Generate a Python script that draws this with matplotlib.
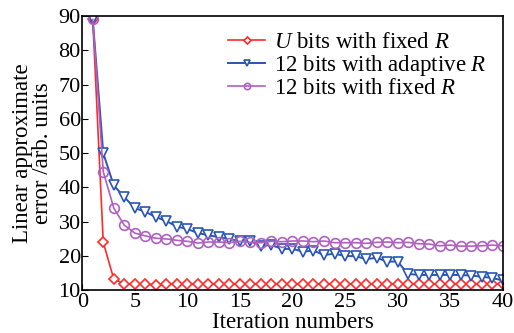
import matplotlib
matplotlib.use("Agg")
import matplotlib.pyplot as plt
import numpy as np

iters = np.arange(1, 41)

u_fixed = [89, 24, 13.3, 11.9, 11.8, 11.8, 11.6, 11.8, 11.8, 11.8,
           11.8, 11.8, 11.8, 11.8, 11.8, 11.8, 11.8, 11.8, 11.8, 11.8,
           11.8, 11.8, 11.8, 11.8, 11.8, 11.8, 11.8, 11.8, 11.8, 11.8,
           11.8, 11.8, 11.8, 11.8, 11.8, 11.8, 11.8, 11.8, 11.8, 11.8]
b12_adapt = [89, 50, 40.6, 37.2, 34.0, 32.9, 31.4, 30.2, 28.6, 27.9,
             26.7, 26.1, 25.5, 25.0, 24.3, 24.3, 23.0, 23.2, 22.1, 22.1,
             21.3, 21.6, 20.3, 20.7, 20.0, 20.0, 19.1, 19.5, 18.4, 18.4,
             14.8, 14.5, 14.5, 14.5, 14.5, 14.5, 14.3, 14.0, 13.6, 12.9]
b12_fixed = [89, 44.6, 34.0, 29.0, 26.7, 25.9, 25.2, 25.0, 24.6, 24.3,
             23.8, 24.1, 24.1, 23.9, 24.3, 24.0, 23.9, 24.3, 24.2, 24.4,
             24.4, 24.2, 24.4, 23.9, 23.9, 23.9, 23.7, 24.0, 24.1, 23.9,
             24.0, 23.6, 23.5, 23.0, 23.2, 22.9, 22.9, 23.0, 23.2, 23.0]

labels = [r"$\mathit{U}$ bits with fixed $\mathit{R}$",
          r"12 bits with adaptive $\mathit{R}$",
          r"12 bits with fixed $\mathit{R}$"]

plt.rcParams["font.family"] = "Liberation Serif"
plt.rcParams["mathtext.fontset"] = "custom"
plt.rcParams["mathtext.it"] = "Liberation Serif:italic"
plt.rcParams["mathtext.rm"] = "Liberation Serif"

fig = plt.figure(figsize=(5.14, 3.33), dpi=100)
ax = fig.add_axes([0.16, 0.128, 0.818, 0.824])

ax.plot(iters, u_fixed, color="#ff2a2a", lw=1.2, marker="D", ms=5.5,
        mfc="white", mew=1.2, label=labels[0])
ax.plot(iters, b12_adapt, color="#2a55b5", lw=1.4, marker="v", ms=7.5,
        mfc="white", mew=1.2, label=labels[1])
ax.plot(iters, b12_fixed, color="#b060c0", lw=1.2, marker="o", ms=7,
        mfc="none", mew=1.2, label=labels[2])

ax.set_xlim(0, 40)
ax.set_ylim(10, 90)
ax.set_xticks(np.arange(0, 41, 5))
ax.set_yticks(np.arange(10, 91, 10))
ax.tick_params(direction="in", length=4, labelsize=16)
ax.tick_params(axis="y", pad=1)
ax.tick_params(axis="x", pad=2)
for s in ax.spines.values():
    s.set_linewidth(1.2)

ax.set_xlabel("Iteration numbers", fontsize=16.5, labelpad=0)
ax.set_ylabel("Linear approximate\nerror /arb. units", fontsize=16.5,
              labelpad=4, linespacing=0.95)

ax.legend(loc="upper right", frameon=False, fontsize=16.5, handlelength=1.6,
          handletextpad=0.4, labelspacing=0.0, borderaxespad=0.3,
          markerscale=0.65)

fig.savefig("out.png", dpi=100)
